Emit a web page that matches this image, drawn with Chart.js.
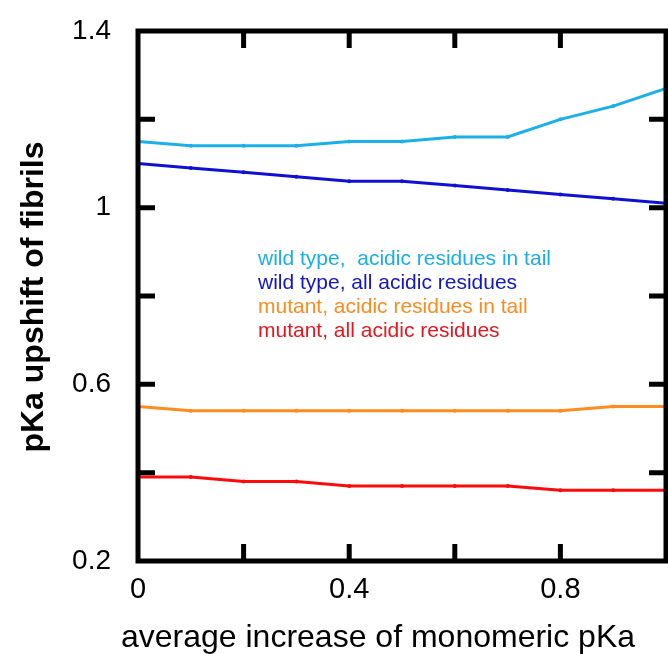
<!DOCTYPE html>
<html>
<head>
<meta charset="utf-8">
<script src="https://cdn.jsdelivr.net/npm/chart.js"></script>
<style>
  html, body { margin: 0; padding: 0; background: #fff; }
  #wrap { width: 668px; height: 654px; position: relative; }
</style>
</head>
<body>
<div id="wrap"><canvas id="chart"></canvas></div>
<script>
// average increase of monomeric pKa
const xValues = [0, 0.1, 0.2, 0.3, 0.4, 0.5, 0.6, 0.7, 0.8, 0.9, 1.0];

const wildTail = [1.15, 1.14, 1.14, 1.14, 1.15, 1.15, 1.16, 1.16, 1.20, 1.23, 1.27];
const wildAll  = [1.10, 1.09, 1.08, 1.07, 1.06, 1.06, 1.05, 1.04, 1.03, 1.02, 1.01];
const mutTail  = [0.55, 0.54, 0.54, 0.54, 0.54, 0.54, 0.54, 0.54, 0.54, 0.55, 0.55];
const mutAll   = [0.39, 0.39, 0.38, 0.38, 0.37, 0.37, 0.37, 0.37, 0.36, 0.36, 0.36];

const seriesNames = [
  'wild type,  acidic residues in tail',
  'wild type, all acidic residues',
  'mutant, acidic residues in tail',
  'mutant, all acidic residues'
];
const seriesColors = ['#1cb0ea', '#1010d4', '#ff8c1e', '#ff0a0a'];
const labelColors  = ['#1aaee8', '#1414c8', '#ff8a20', '#e8141e'];

const xLabelTicks = [0, 0.4, 0.8];
const yLabelTicks = [0.2, 0.6, 1, 1.4];

const FONT = '"Liberation Sans", Arial, Helvetica, sans-serif';

function toPoints(ys) { return xValues.map((x, i) => ({ x: x, y: ys[i] })); }

function makeSet(name, ys, color) {
  return {
    label: name, data: toPoints(ys),
    borderColor: color, backgroundColor: color,
    borderWidth: 3, pointRadius: 2, pointHoverRadius: 2,
    pointBorderWidth: 0, tension: 0
  };
}

function hasLabel(list, v) { return list.some(t => Math.abs(t - v) < 1e-6); }

// fixed axis boxes, no extra label overflow padding
function fixBox(s, size) {
  if (s.isHorizontal()) s.height = size; else s.width = size;
  s.paddingTop = 0; s.paddingBottom = 0; s.paddingLeft = 0; s.paddingRight = 0;
}

// frame, inward ticks, legend text and axis titles
const framePlugin = {
  id: 'frame',
  afterDraw(chart) {
    const { ctx, chartArea: a, scales } = chart;
    ctx.save();
    ctx.strokeStyle = '#000';
    ctx.lineWidth = 5;
    ctx.strokeRect(a.left, a.top, a.right - a.left, a.bottom - a.top);

    const len = 17;
    ctx.beginPath();
    scales.x.ticks.forEach(t => {
      const px = scales.x.getPixelForValue(t.value);
      if (px <= a.left + 2 || px >= a.right - 2) return;
      ctx.moveTo(px, a.bottom); ctx.lineTo(px, a.bottom - len);
      ctx.moveTo(px, a.top); ctx.lineTo(px, a.top + len);
    });
    scales.y.ticks.forEach(t => {
      const py = scales.y.getPixelForValue(t.value);
      if (py <= a.top + 2 || py >= a.bottom - 2) return;
      ctx.moveTo(a.left, py); ctx.lineTo(a.left + len, py);
      ctx.moveTo(a.right, py); ctx.lineTo(a.right - len, py);
    });
    ctx.stroke();

    // legend text inside plot
    ctx.font = '21px ' + FONT;
    ctx.textAlign = 'left';
    ctx.textBaseline = 'middle';
    seriesNames.forEach((n, i) => {
      ctx.fillStyle = labelColors[i];
      ctx.fillText(n, a.left + 120, a.top + 228 + i * 24);
    });

    // axis titles
    ctx.fillStyle = '#000';
    ctx.font = '32px ' + FONT;
    ctx.textAlign = 'center';
    ctx.textBaseline = 'alphabetic';
    ctx.fillText('average increase of monomeric pKa', 378, 647);

    ctx.save();
    ctx.translate(43, 297);
    ctx.rotate(-Math.PI / 2);
    ctx.font = 'bold 32px ' + FONT;
    ctx.fillText('pKa upshift of fibrils', 0, 0);
    ctx.restore();
    ctx.restore();
  }
};

new Chart(document.getElementById('chart'), {
  type: 'line',
  data: {
    datasets: [
      makeSet(seriesNames[0], wildTail, seriesColors[0]),
      makeSet(seriesNames[1], wildAll, seriesColors[1]),
      makeSet(seriesNames[2], mutTail, seriesColors[2]),
      makeSet(seriesNames[3], mutAll, seriesColors[3])
    ]
  },
  options: {
    responsive: true,
    maintainAspectRatio: false,
    animation: false,
    layout: { padding: { top: 31, right: 2, left: 0, bottom: 0 } },
    plugins: { legend: { display: false }, tooltip: { enabled: false } },
    scales: {
      x: {
        type: 'linear', min: 0, max: 1,
        grid: { display: false },
        border: { display: false },
        afterFit: s => fixBox(s, 93),
        ticks: {
          stepSize: 0.2, autoSkip: false, maxRotation: 0, padding: 4,
          color: '#000', font: { family: FONT, size: 29 },
          callback: v => hasLabel(xLabelTicks, v) ? String(Number(v.toFixed(1))) : ''
        }
      },
      y: {
        type: 'linear', min: 0.2, max: 1.4,
        grid: { display: false },
        border: { display: false },
        afterFit: s => fixBox(s, 138),
        ticks: {
          stepSize: 0.2, autoSkip: false, padding: 19,
          color: '#000', font: { family: FONT, size: 28 },
          callback: v => hasLabel(yLabelTicks, v) ? String(Number(v.toFixed(1))) : ''
        }
      }
    }
  },
  plugins: [framePlugin]
});
</script>
</body>
</html>
